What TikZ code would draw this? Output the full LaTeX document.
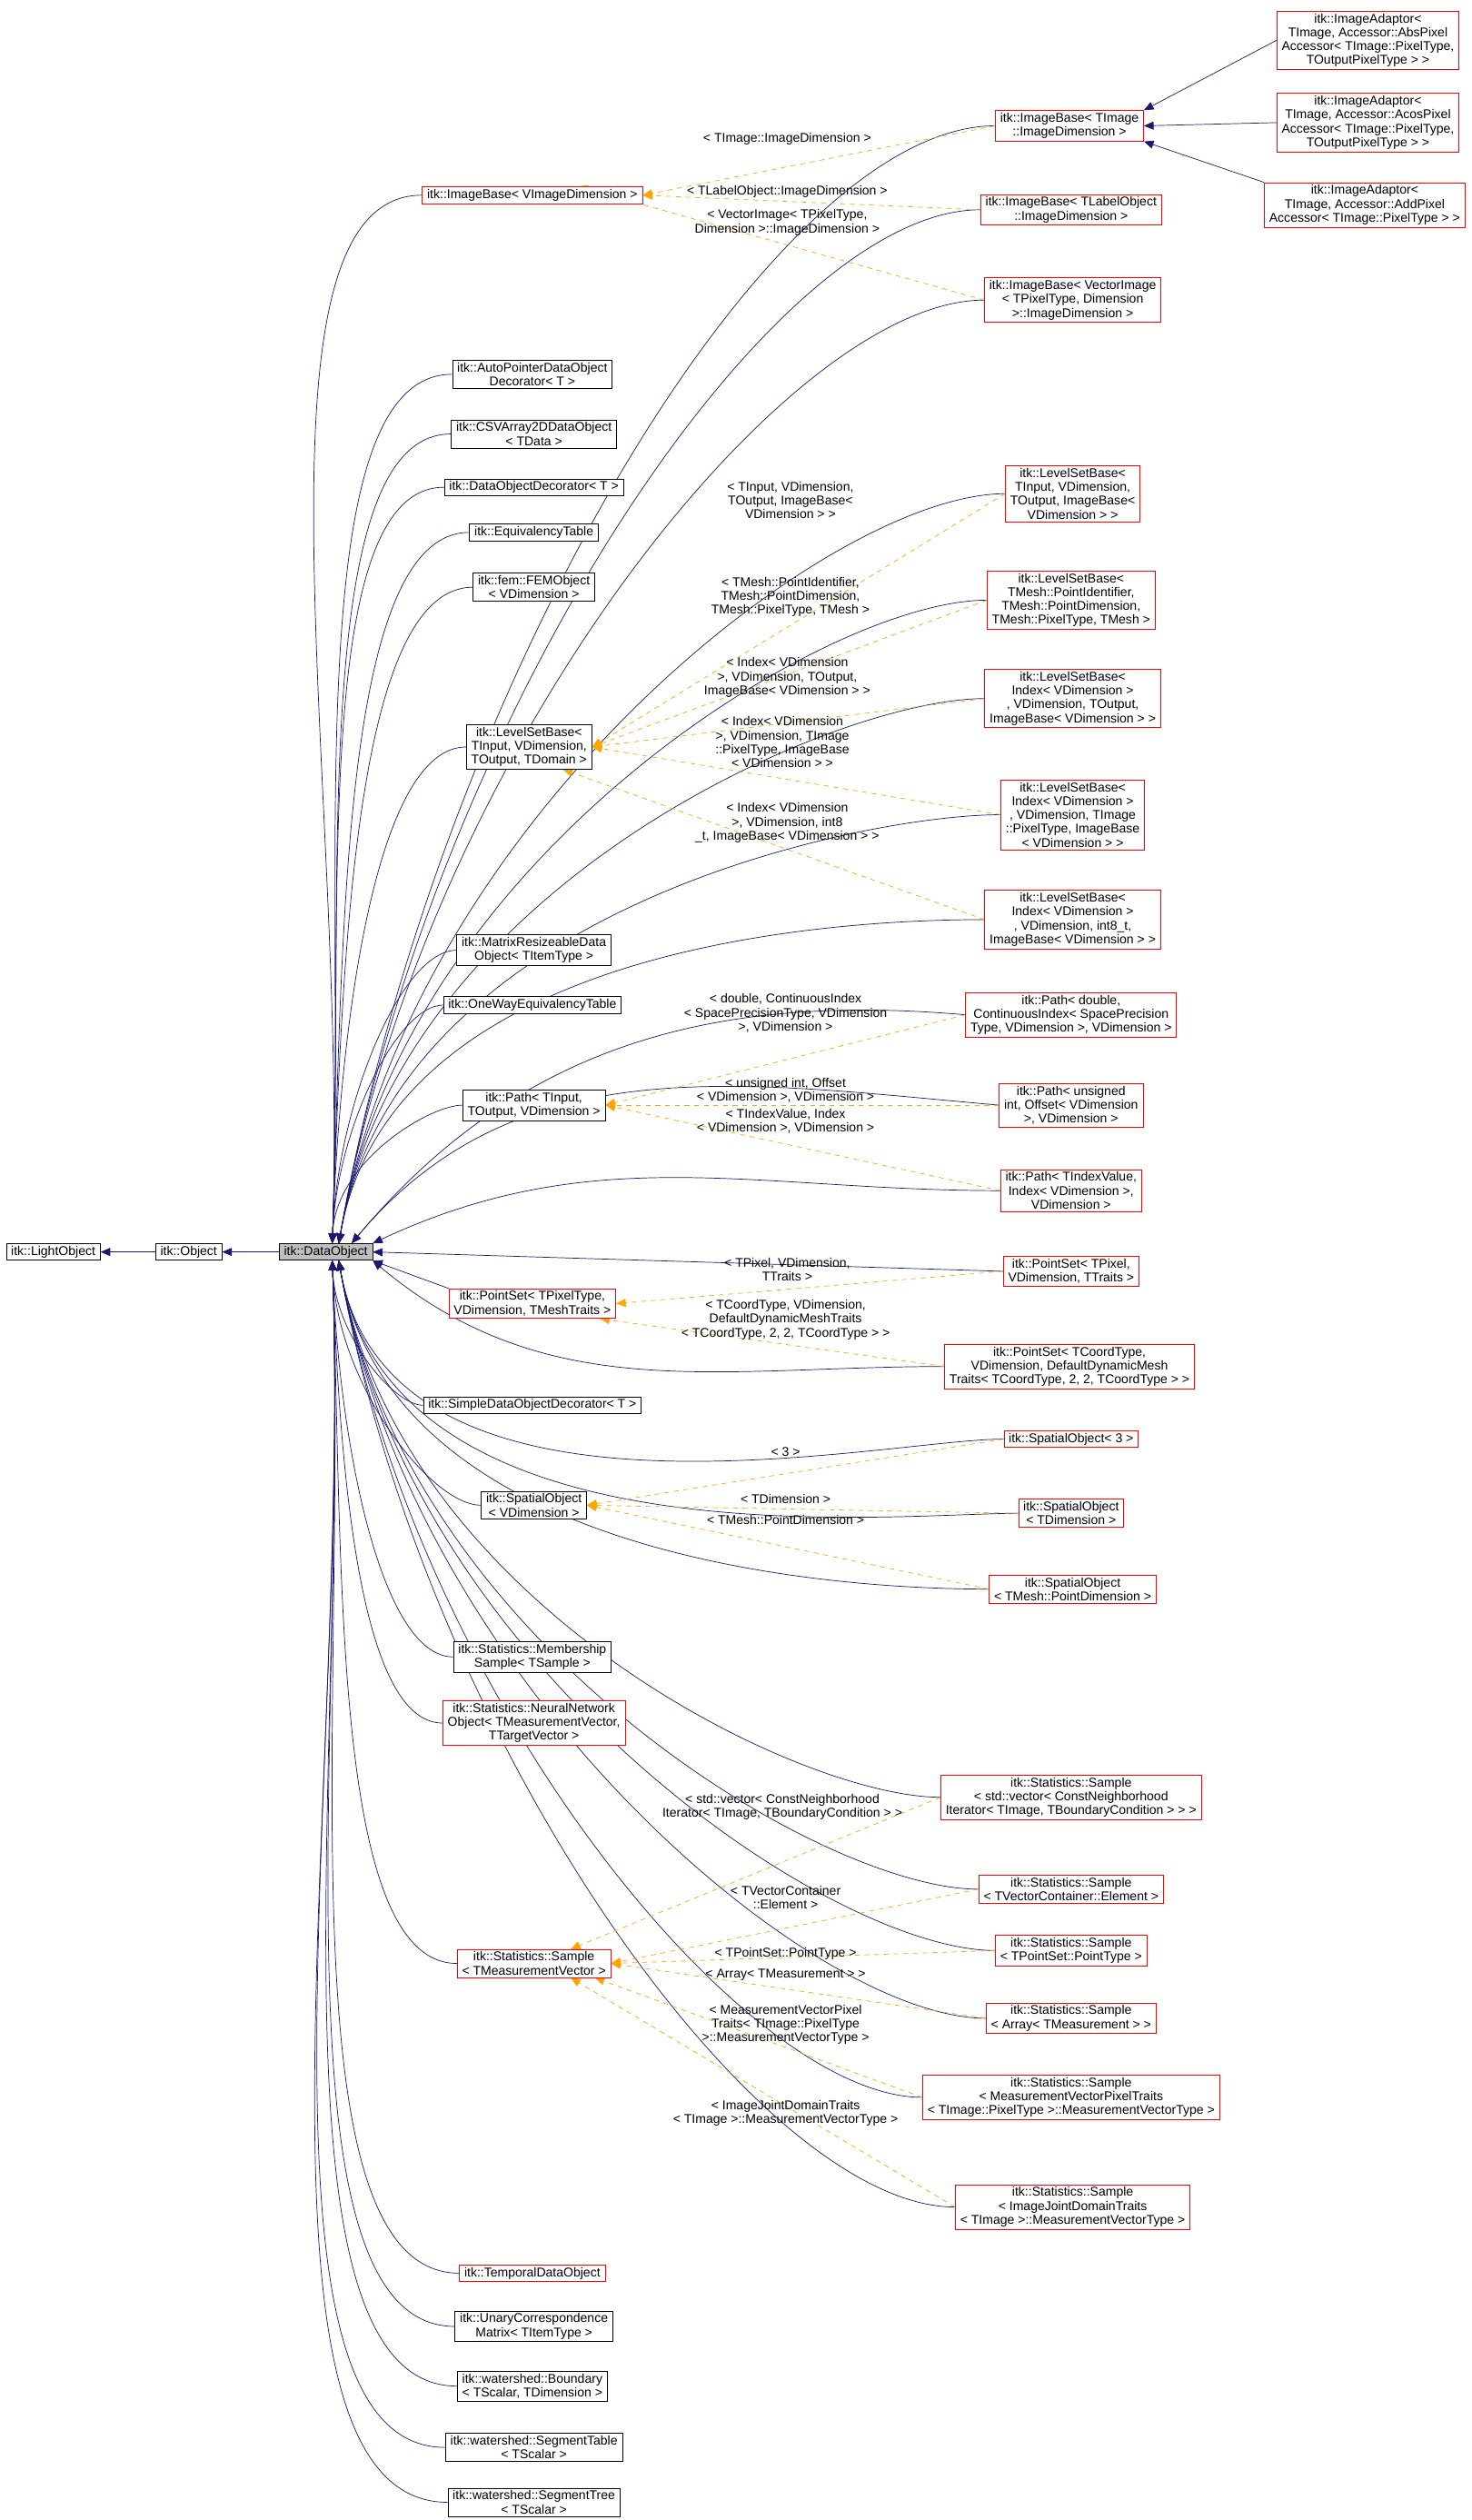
\documentclass[tikz,border=0pt]{standalone}
\usepackage{fontspec}
\setmainfont{Liberation Sans}
\usetikzlibrary{arrows.meta,backgrounds}
\definecolor{navy}{RGB}{25,25,112}
\definecolor{rd}{RGB}{255,0,0}
\definecolor{org}{RGB}{255,165,0}
\tikzset{
 bb/.style={draw=black,fill=white,align=center,inner xsep=3pt,inner ysep=1.5pt,font=\fontsize{7.9}{8.6}\selectfont},
 rb/.style={bb,draw=rd},
 lab/.style={align=center,inner sep=0pt,font=\fontsize{7.9}{8.6}\selectfont},
 inh/.style={draw=navy,-{Triangle[length=6pt,width=5pt]}},
 tpl/.style={draw=org,dashed,-{Triangle[length=6pt,width=5pt]}},
 upc/.style={out=180,in=88,out looseness=0.45,in looseness=1.1},
 dnc/.style={out=180,in=-88,out looseness=0.45,in looseness=1.1}
}
\begin{document}
\begin{tikzpicture}[x=1pt,y=-1pt]
\useasboundingbox (0,0) rectangle (912,1562);
\node[bb] (lo) at (33,776) {itk::LightObject};
\node[bb] (ob) at (117,776) {itk::Object};
\node[bb,fill=black!25] (d) at (202,776) {itk::DataObject};
% middle
\node[rb] (ib) at (330,121) {itk::ImageBase< VImageDimension >};
\node[bb] (ap) at (330,232) {itk::AutoPointerDataObject\\Decorator< T >};
\node[bb] (csv) at (331,269) {itk::CSVArray2DDataObject\\< TData >};
\node[bb] (dod) at (331,302) {itk::DataObjectDecorator< T >};
\node[bb] (eq) at (331,330) {itk::EquivalencyTable};
\node[bb] (fem) at (331,364) {itk::fem::FEMObject\\< VDimension >};
\node[bb] (ls) at (328,463) {itk::LevelSetBase<\\ TInput, VDimension,\\ TOutput, TDomain >};
\node[bb] (mr) at (331,589) {itk::MatrixResizeableData\\Object< TItemType >};
\node[bb] (ow) at (330,623) {itk::OneWayEquivalencyTable};
\node[bb] (pa) at (331,685) {itk::Path< TInput,\\ TOutput, VDimension >};
\node[rb] (ps) at (330,808) {itk::PointSet< TPixelType,\\ VDimension, TMeshTraits >};
\node[bb] (sd) at (330,871) {itk::SimpleDataObjectDecorator< T >};
\node[bb] (so) at (331,933) {itk::SpatialObject\\< VDimension >};
\node[bb] (ms) at (330,1027) {itk::Statistics::Membership\\Sample< TSample >};
\node[rb] (nn) at (331,1068) {itk::Statistics::NeuralNetwork\\Object< TMeasurementVector,\\ TTargetVector >};
\node[rb] (sa) at (331,1217) {itk::Statistics::Sample\\< TMeasurementVector >};
\node[rb] (td) at (330,1409) {itk::TemporalDataObject};
\node[bb] (uc) at (331,1442) {itk::UnaryCorrespondence\\Matrix< TItemType >};
\node[bb] (wb) at (330,1479) {itk::watershed::Boundary\\< TScalar, TDimension >};
\node[bb] (wt) at (331,1517) {itk::watershed::SegmentTable\\< TScalar >};
\node[bb] (wtr) at (331,1551) {itk::watershed::SegmentTree\\< TScalar >};
% right
\node[rb] (ibt) at (663,78) {itk::ImageBase< TImage\\::ImageDimension >};
\node[rb] (ibl) at (664,130) {itk::ImageBase< TLabelObject\\::ImageDimension >};
\node[rb] (ibv) at (665,186) {itk::ImageBase< VectorImage\\< TPixelType, Dimension\\ >::ImageDimension >};
\node[rb] (ia1) at (848,25) {itk::ImageAdaptor<\\ TImage, Accessor::AbsPixel\\Accessor< TImage::PixelType,\\ TOutputPixelType > >};
\node[rb] (ia2) at (848,76) {itk::ImageAdaptor<\\ TImage, Accessor::AcosPixel\\Accessor< TImage::PixelType,\\ TOutputPixelType > >};
\node[rb] (ia3) at (846,127) {itk::ImageAdaptor<\\ TImage, Accessor::AddPixel\\Accessor< TImage::PixelType > >};
\node[rb] (l1) at (665,306) {itk::LevelSetBase<\\ TInput, VDimension,\\ TOutput, ImageBase<\\ VDimension > >};
\node[rb] (l2) at (664,372) {itk::LevelSetBase<\\ TMesh::PointIdentifier,\\ TMesh::PointDimension,\\ TMesh::PixelType, TMesh >};
\node[rb] (l3) at (665,433) {itk::LevelSetBase<\\ Index< VDimension >\\, VDimension, TOutput,\\ ImageBase< VDimension > >};
\node[rb] (l4) at (665,505) {itk::LevelSetBase<\\ Index< VDimension >\\, VDimension, TImage\\::PixelType, ImageBase\\< VDimension > >};
\node[rb] (l5) at (665,570) {itk::LevelSetBase<\\ Index< VDimension >\\, VDimension, int8\_t,\\ ImageBase< VDimension > >};
\node[rb] (p1) at (664,629) {itk::Path< double,\\ ContinuousIndex< SpacePrecision\\Type, VDimension >, VDimension >};
\node[rb] (p2) at (664,685) {itk::Path< unsigned\\ int, Offset< VDimension\\ >, VDimension >};
\node[rb] (p3) at (664,738) {itk::Path< TIndexValue,\\ Index< VDimension >,\\ VDimension >};
\node[rb] (q1) at (664,788) {itk::PointSet< TPixel,\\ VDimension, TTraits >};
\node[rb] (q2) at (663,847) {itk::PointSet< TCoordType,\\ VDimension, DefaultDynamicMesh\\Traits< TCoordType, 2, 2, TCoordType > >};
\node[rb] (s3) at (664,892) {itk::SpatialObject< 3 >};
\node[rb] (st) at (664,938) {itk::SpatialObject\\< TDimension >};
\node[rb] (sm) at (665,985) {itk::SpatialObject\\< TMesh::PointDimension >};
\node[rb] (a1) at (664,1114) {itk::Statistics::Sample\\< std::vector< ConstNeighborhood\\Iterator< TImage, TBoundaryCondition > > >};
\node[rb] (a2) at (664,1171) {itk::Statistics::Sample\\< TVectorContainer::Element >};
\node[rb] (a3) at (664,1209) {itk::Statistics::Sample\\< TPointSet::PointType >};
\node[rb] (a4) at (664,1251) {itk::Statistics::Sample\\< Array< TMeasurement > >};
\node[rb] (a5) at (664,1300) {itk::Statistics::Sample\\< MeasurementVectorPixelTraits\\< TImage::PixelType >::MeasurementVectorType >};
\node[rb] (a6) at (665,1368) {itk::Statistics::Sample\\< ImageJointDomainTraits\\< TImage >::MeasurementVectorType >};
% labels
\node[lab] (t1) at (488,86) {< TImage::ImageDimension >};
\node[lab] (t2) at (488,119) {< TLabelObject::ImageDimension >};
\node[lab] (t3) at (488,138) {< VectorImage< TPixelType,\\ Dimension >::ImageDimension >};
\node[lab] (t4) at (490,310) {< TInput, VDimension,\\ TOutput, ImageBase<\\ VDimension > >};
\node[lab] (t5) at (490,370) {< TMesh::PointIdentifier,\\ TMesh::PointDimension,\\ TMesh::PixelType, TMesh >};
\node[lab] (t6) at (488,420) {< Index< VDimension\\ >, VDimension, TOutput,\\ ImageBase< VDimension > >};
\node[lab] (t7) at (485,460) {< Index< VDimension\\ >, VDimension, TImage\\ ::PixelType, ImageBase\\ < VDimension > >};
\node[lab] (t8) at (488,510) {< Index< VDimension\\ >, VDimension, int8\\ \_t, ImageBase< VDimension > >};
\node[lab] (t9) at (487,628) {< double, ContinuousIndex\\< SpacePrecisionType, VDimension\\ >, VDimension >};
\node[lab] (t10) at (487,676) {< unsigned int, Offset\\< VDimension >, VDimension >};
\node[lab] (t11) at (487,695) {< TIndexValue, Index\\< VDimension >, VDimension >};
\node[lab] (t12) at (488,787) {< TPixel, VDimension,\\ TTraits >};
\node[lab] (t13) at (487,818) {< TCoordType, VDimension,\\ DefaultDynamicMeshTraits\\< TCoordType, 2, 2, TCoordType > >};
\node[lab] (t14) at (487,900) {< 3 >};
\node[lab] (t15) at (487,929) {< TDimension >};
\node[lab] (t16) at (487,942) {< TMesh::PointDimension >};
\node[lab] (t17) at (485,1120) {< std::vector< ConstNeighborhood\\ Iterator< TImage, TBoundaryCondition > >};
\node[lab] (t18) at (487,1176) {< TVectorContainer\\ ::Element >};
\node[lab] (t19) at (487,1211) {< TPointSet::PointType >};
\node[lab] (t20) at (487,1224) {< Array< TMeasurement > >};
\node[lab] (t21) at (487,1255) {< MeasurementVectorPixel\\ Traits< TImage::PixelType\\ >::MeasurementVectorType >};
\node[lab] (t22) at (487,1310) {< ImageJointDomainTraits\\< TImage >::MeasurementVectorType >};
\begin{scope}[on background layer]
\fill[white] (0,0) rectangle (912,1562);
\draw[inh] (ob) -- (lo);
\draw[inh] (d) -- (ob);
\foreach \n in {ib,ap,csv,dod,eq,fem,ls,mr,ow,pa}
  \draw[inh] (\n.west) to[upc] ([xshift=4]d.north);
\draw[inh] (ps.north west) -- (d.south east);
\foreach \n in {sd,so,ms,nn,sa,td,uc,wb,wt,wtr}
  \draw[inh] (\n.west) to[dnc] ([xshift=4]d.south);
\foreach \n in {ibt,ibl,ibv,l1,l2,l3,l4,l5}
  \draw[inh] (\n.west) to[upc,in=80] ([xshift=8]d.north);
\foreach \n in {p1,p2}
  \draw[inh] (\n.west) to[out=175,in=50] ([xshift=16]d.north);
\draw[inh] (p3.west) to[out=180,in=25] (d.north east);
\draw[inh] (q1.west) -- (d.east);
\draw[inh] (q2.west) to[out=180,in=-40] (d.south east);
\foreach \n in {s3,st,sm,a1,a2,a3,a4,a5,a6}
  \draw[inh] (\n.west) to[dnc,in=-80] ([xshift=8]d.south);
\draw[inh] (ia1.west) -- (ibt.north east);
\draw[inh] (ia2.west) -- (ibt.east);
\draw[inh] (ia3.north west) -- (ibt.south east);
\draw[tpl] (ibt.west) -- (ib.east);
\draw[tpl] (ibl.west) -- (ib.east);
\draw[tpl] (ibv.west) -- ([xshift=-40]ib.north east);
\foreach \n in {l1,l2,l3,l4} \draw[tpl] (\n.west) -- (ls.east);
\draw[tpl] (l5.west) -- ([xshift=-18]ls.south east);
\foreach \n in {p1,p2,p3} \draw[tpl] (\n.west) -- (pa.east);
\draw[tpl] (q1.west) -- (ps.east);
\draw[tpl] (q2.west) -- ([xshift=-10]ps.south east);
\foreach \n in {s3,st,sm} \draw[tpl] (\n.west) -- (so.east);
\draw[tpl] (a1.west) -- ([xshift=-25]sa.north east);
\foreach \n in {a2,a3,a4} \draw[tpl] (\n.west) -- (sa.east);
\draw[tpl] (a5.west) -- ([xshift=-10]sa.south east);
\draw[tpl] (a6.west) -- ([xshift=-25]sa.south east);
\end{scope}
\end{tikzpicture}
\end{document}
